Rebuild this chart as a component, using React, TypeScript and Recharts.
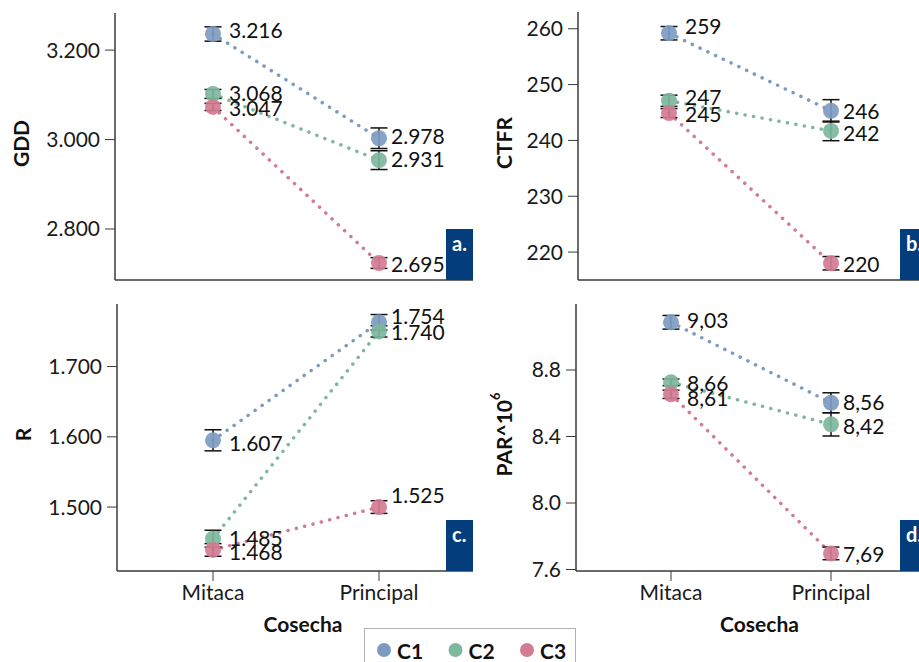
import React from 'react';
import { LineChart, Line, XAxis, YAxis, ErrorBar, LabelList } from 'recharts';

const cosechas = ['Mitaca', 'Principal'];
const grupos = ['C1', 'C2', 'C3'];
const colores = ['#7d9bc1', '#7db79d', '#d27b91'];

// GDD (a.)
const gddMedias = [[3236, 3003], [3102, 2954], [3073, 2724]];
const gddErrores = [[16, 23], [10, 21], [8, 12]];
const gddEtiquetas = [['3.216', '2.978'], ['3.068', '2.931'], ['3.047', '2.695']];
const gddTicks = [2800, 3000, 3200];

// CTFR (b.)
const ctfrMedias = [[259.2, 245.3], [247.1, 241.7], [244.9, 218.0]];
const ctfrErrores = [[1.2, 2.0], [1.0, 1.75], [0.8, 1.2]];
const ctfrEtiquetas = [['259', '246'], ['247', '242'], ['245', '220']];
const ctfrTicks = [220, 230, 240, 250, 260];

// R (c.)
const rMedias = [[1595, 1763], [1455, 1750], [1439, 1500]];
const rErrores = [[15, 11], [12, 8], [9, 9]];
const rEtiquetas = [['1.607', '1.754'], ['1.485', '1.740'], ['1.468', '1.525']];
const rTicks = [1500, 1600, 1700];

// PAR (d.)
const parMedias = [[9.087, 8.603], [8.726, 8.473], [8.654, 7.697]];
const parErrores = [[0.041, 0.06], [0.02, 0.07], [0.025, 0.038]];
const parEtiquetas = [['9,03', '8,56'], ['8,66', '8,42'], ['8,61', '7,69']];
const parTicks = [7.6, 8.0, 8.4, 8.8];

const FS = 21;

const miles = (v: number) => {
  const s = String(Math.round(v));
  return s.slice(0, s.length - 3) + '.' + s.slice(-3);
};

const filas = (medias: number[][], errores: number[][], etiquetas: string[][]) =>
  cosechas.map((c, i) => {
    const fila: any = { cosecha: c };
    grupos.forEach((g, s) => {
      fila[g] = medias[s][i];
      fila[g + '_e'] = errores[s][i];
      fila[g + '_l'] = etiquetas[s][i];
    });
    return fila;
  });

const TituloY = ({ viewBox, text, dx, sup }: any) => {
  const cx = viewBox.x + dx;
  const cy = viewBox.y + viewBox.height / 2 - 3;
  return (
    <text x={cx} y={cy} transform={`rotate(-90, ${cx}, ${cy})`} textAnchor="middle"
      dominantBaseline="central" fontWeight={700} fontSize={FS} fill="#111">
      {text}
      {sup && <tspan dy={-8} fontSize={13}>{sup}</tspan>}
    </text>
  );
};

const TituloX = ({ viewBox }: any) => (
  <text x={viewBox.x + viewBox.width / 2 + 8} y={viewBox.y + 61} textAnchor="middle"
    fontWeight={700} fontSize={FS} fill="#111">
    Cosecha
  </text>
);

const borde = { stroke: '#3a3a3a', strokeWidth: 1.5 };

function Panel(props: any) {
  const { left, top, width, height, margin, yWidth, pad, domain, ticks, fmt, yTitle, yDx, sup,
    showX, medias, errores, etiquetas, nudges, badge } = props;
  const data = filas(medias, errores, etiquetas);
  const plotRight = width - margin.right;
  const plotBottom = height - margin.bottom - (showX ? 70 : 20);
  return (
    <div style={{ position: 'absolute', left, top }}>
      <LineChart width={width} height={height} data={data} margin={margin}>
        <XAxis dataKey="cosecha" type="category" padding={pad} height={showX ? 70 : 20}
          tickSize={10} tickMargin={4} axisLine={borde} tickLine={{ stroke: '#3a3a3a' }}
          tick={showX ? { fill: '#1a1a1a', fontSize: FS } : false}
          label={showX ? <TituloX /> : undefined} />
        <XAxis xAxisId="top" orientation="top" dataKey="cosecha" height={0}
          tick={false} tickLine={false} axisLine={borde} />
        <YAxis type="number" domain={domain} ticks={ticks} tickFormatter={fmt} width={yWidth}
          allowDataOverflow tickSize={10} tickMargin={5} axisLine={borde}
          tickLine={{ stroke: '#3a3a3a' }} tick={{ fill: '#1a1a1a', fontSize: FS }}
          label={<TituloY text={yTitle} dx={yDx} sup={sup} />} />
        <YAxis yAxisId="right" orientation="right" width={0} domain={domain} allowDataOverflow
          tick={false} tickLine={false} axisLine={borde} />
        {grupos.map((g, s) => (
          <Line key={g} dataKey={g} stroke={colores[s]} strokeWidth={3.5}
            strokeDasharray="0.1 8.5" strokeLinecap="round" isAnimationActive={false}
            activeDot={false}
            dot={(p: any) => (
              <circle key={g + p.index} cx={p.cx} cy={p.cy} r={8} fill={colores[s]} fillOpacity={0.92} />
            )}>
            <LabelList dataKey={g + '_l'} content={(p: any) => {
              const i = p.index ?? 0;
              const x = p.x ?? p.viewBox?.x;
              const y = p.y ?? p.viewBox?.y;
              return (
                <text key={g + 'l' + i} x={x + (i === 0 ? 16 : 12)} y={y + nudges[s][i]}
                  dominantBaseline="central" fontSize={FS} fill="#111">
                  {p.value}
                </text>
              );
            }} />
          </Line>
        ))}
        {grupos.map((g, s) => (
          <Line key={g + 'err'} dataKey={g} stroke="none" dot={false} activeDot={false}
            isAnimationActive={false} legendType="none">
            <ErrorBar dataKey={g + '_e'} width={8.5} stroke="#111" strokeWidth={1.5} direction="y" />
          </Line>
        ))}
      </LineChart>
      <div style={{
        position: 'absolute', left: plotRight - 27, top: plotBottom - 51, width: 27, height: 51,
        background: '#033d7c', color: '#fff', fontWeight: 700, fontSize: 20, lineHeight: '24px',
        paddingLeft: 6, paddingTop: 2, boxSizing: 'border-box'
      }}>{badge}</div>
    </div>
  );
}

export default function App() {
  return (
    <div style={{
      position: 'absolute', left: 0, top: 0, width: 919, height: 662, overflow: 'hidden',
      background: '#fff', fontFamily: 'Lato, "Noto Sans", sans-serif'
    }}>
      <Panel left={0} top={0} width={480} height={300} margin={{ top: 13, right: 7, bottom: 0, left: 0 }}
        yWidth={115} pad={{ left: 98, right: 94 }} domain={[2686, 3283]} ticks={gddTicks} fmt={miles}
        yTitle="GDD" yDx={20} showX={false} medias={gddMedias} errores={gddErrores}
        etiquetas={gddEtiquetas} nudges={[[-5, -3], [-1, -2], [1, 0]]} badge="a." />
      <Panel left={470} top={0} width={470} height={300} margin={{ top: 12, right: 13, bottom: 0, left: 0 }}
        yWidth={108} pad={{ left: 91, right: 96 }} domain={[215, 263]} ticks={ctfrTicks}
        fmt={(v: number) => String(v)} yTitle="CTFR" yDx={33} showX={false} medias={ctfrMedias}
        errores={ctfrErrores} etiquetas={ctfrEtiquetas} nudges={[[-8, 0], [-4, 2], [0, 0]]} badge="b." />
      <Panel left={0} top={290} width={480} height={372} margin={{ top: 14, right: 7, bottom: 21, left: 0 }}
        yWidth={117} pad={{ left: 96, right: 94 }} domain={[1409, 1789]} ticks={rTicks} fmt={miles}
        yTitle="R" yDx={22} showX medias={rMedias} errores={rErrores} etiquetas={rEtiquetas}
        nudges={[[2, -7], [-1, 0], [2, -13]]} badge="c." />
      <Panel left={470} top={290} width={470} height={372} margin={{ top: 14, right: 13, bottom: 21, left: 0 }}
        yWidth={106} pad={{ left: 95, right: 96 }} domain={[7.591, 9.197]} ticks={parTicks}
        fmt={(v: number) => v.toFixed(1)} yTitle="PAR^10" sup="6" yDx={33} showX medias={parMedias}
        errores={parErrores} etiquetas={parEtiquetas} nudges={[[-3, -1], [0, 1], [3, 0]]} badge="d." />
      <div style={{
        position: 'absolute', left: 364, top: 628, width: 212, height: 50,
        border: '1.5px solid #b0b0b0', boxSizing: 'border-box', background: '#fff'
      }}>
        <svg width={212} height={50}>
          {grupos.map((g, i) => (
            <g key={g}>
              <circle cx={19 + 71.5 * i} cy={21} r={7} fill={colores[i]} />
              <text x={32 + 71.5 * i} y={21} dominantBaseline="central" fontWeight={700}
                fontSize={21} fill="#111">{g}</text>
            </g>
          ))}
        </svg>
      </div>
    </div>
  );
}
